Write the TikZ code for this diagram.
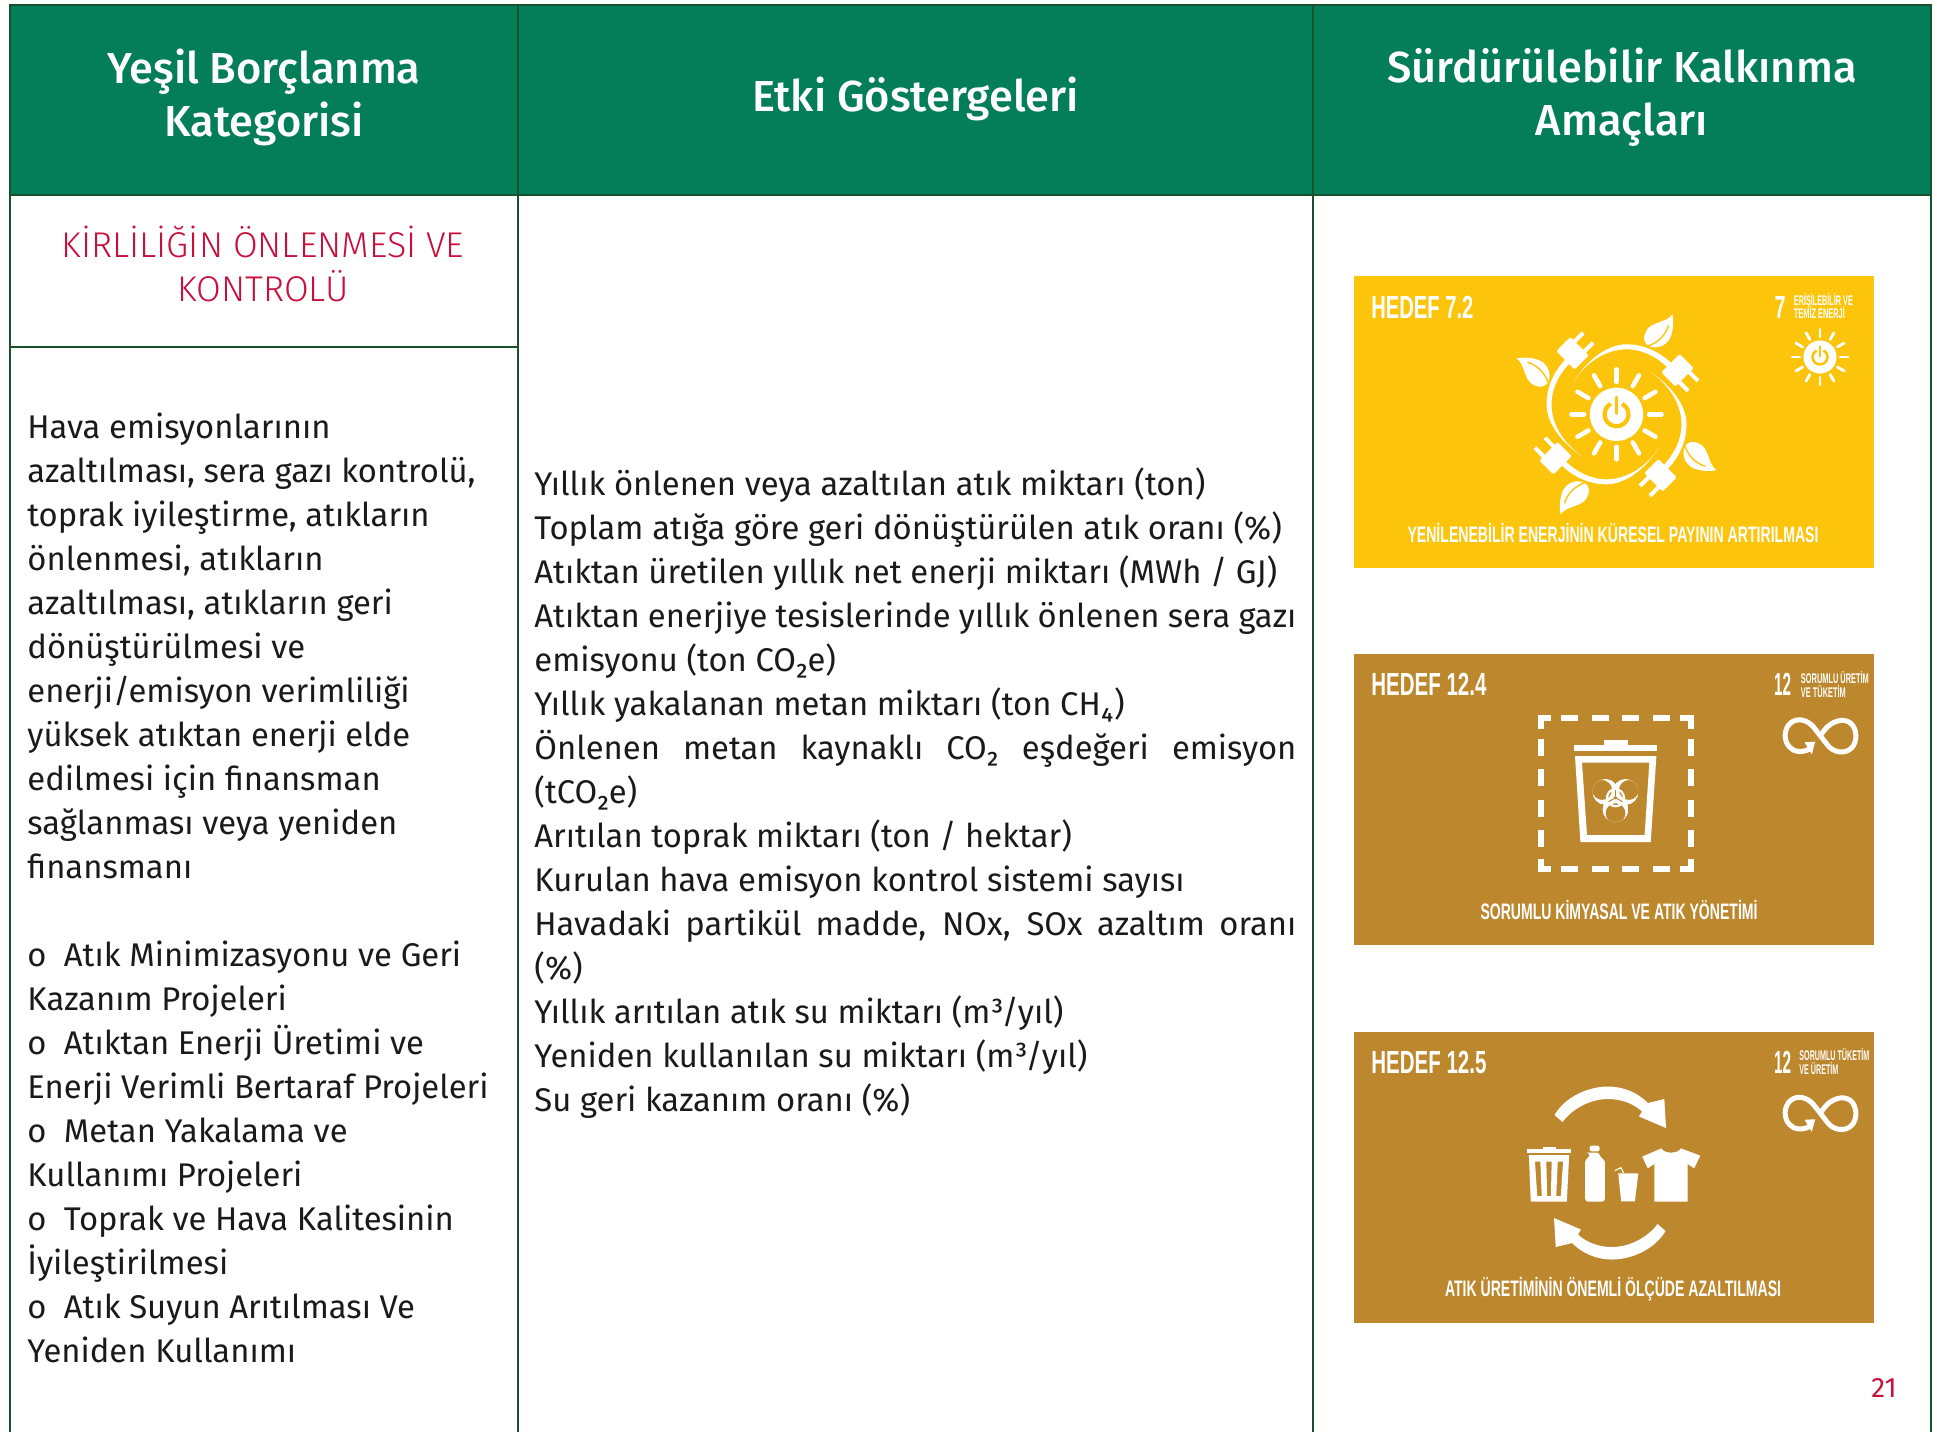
\documentclass[tikz,border=0pt]{standalone}
\usepackage{graphicx}
\usepackage{fontspec}
\setmainfont{Fira Sans}[BoldFont={* Medium}]
\newfontfamily\lightf{Fira Sans}[UprightFont={* Light}]
\newfontfamily\condf{Liberation Sans}
\definecolor{hdrgreen}{HTML}{047D59}
\definecolor{lineg}{HTML}{17522C}
\definecolor{crim}{HTML}{C8103C}
\definecolor{yel}{HTML}{FCC40B}
\definecolor{brn}{HTML}{BD872D}
\definecolor{ink}{HTML}{1A1A1A}
\newcommand\lbl[3]{\resizebox{\dimexpr#1pt/2\relax}{\height}{\fontsize{#2}{#2}\condf\bfseries #3}}
\newcommand\tightlines{\fontsize{7}{6.7}\selectfont\lineskiplimit=-20pt\relax}
\newcommand\sunicon[3]{%
 \begin{scope}[shift={(#1,#2)},scale=#3]
  \fill[white] (0,0) circle (26.7);
  \foreach \a in {0,30,...,330}
    \draw[white,line width=#3*2.3pt,line cap=round] (\a:32.5) -- (\a:45);
  \draw[yel,line width=#3*2.1pt] (-62:12) arc [start angle=-62,end angle=242,radius=12];
  \draw[white,line width=#3*4pt] (0,-6) -- (0,-21);
  \draw[yel,line width=#3*1.8pt,line cap=round] (0,-1) -- (0,-17);
 \end{scope}}
\newcommand\infsym[2]{%
 \begin{scope}[shift={(#1,#2)}]
  \draw[white,line width=2.5pt] (-9,12) .. controls (-16,16) and (-25,15) .. (-29,10)
    .. controls (-35,4) and (-35,-8) .. (-28,-14)
    .. controls (-21,-20) and (-11,-17) .. (-5,-10)
    -- (9,8)
    .. controls (14,15) and (26,18) .. (33,11)
    .. controls (39,5) and (39,-8) .. (32,-14)
    .. controls (24,-20) and (12,-15) .. (6,-7) -- (3,-3);
  \fill[white] (-3.3,4.7) -- (-14,5.3) -- (-6.7,17.3) -- cycle;
 \end{scope}}
\tikzset{
 hdr/.style={font=\fontsize{21.7}{26.5}\selectfont\bfseries,text=white,align=center,inner sep=0},
 body/.style={font=\fontsize{16.4}{22}\selectfont,text=ink,align=left,inner sep=0,anchor=north west},
 cardlbl/.style={text=white,inner sep=0},
 cardtwo/.style={text=white,inner sep=0,anchor=west,align=left,font=\tightlines}
}
\begin{document}
\begin{tikzpicture}[x=0.5pt,y=-0.5pt]
\useasboundingbox (0,0) rectangle (1937,1432);
% table
\fill[hdrgreen] (10,5) rectangle (1931,195);
\draw[lineg,line width=1.2pt] (10,1432) -- (10,5) -- (1931,5) -- (1931,1432);
\draw[lineg,line width=1.2pt] (10,195) -- (1931,195);
\draw[lineg,line width=1pt] (518,5) -- (518,1432);
\draw[lineg,line width=1pt] (1313,5) -- (1313,1432);
\draw[lineg,line width=1pt] (10,347) -- (518,347);
% headers
\node[hdr] (h1) at (264,97) {Yeşil Borçlanma\\Kategorisi};
\node[hdr] (h2) at (915.5,99) {Etki Göstergeleri};
\node[hdr] (h3) at (1622,97) {Sürdürülebilir Kalkınma\\Amaçları};
\node[inner sep=0,align=center,text=crim,font=\lightf\fontsize{17.9}{22}\selectfont] (cat) at (263,264) {KİRLİLİĞİN ÖNLENMESİ VE\\KONTROLÜ};
% column 1
\node[body] (c1) at (27,412) {Hava emisyonlarının\\
azaltılması, sera gazı kontrolü,\\
toprak iyileştirme, atıkların\\
önlenmesi, atıkların\\
azaltılması, atıkların geri\\
dönüştürülmesi ve\\
enerji/emisyon verimliliği\\
yüksek atıktan enerji elde\\
edilmesi için finansman\\
sağlanması veya yeniden\\
finansmanı\\
\mbox{}\\
o\ \ Atık Minimizasyonu ve Geri\\
Kazanım Projeleri\\
o\ \ Atıktan Enerji Üretimi ve\\
Enerji Verimli Bertaraf Projeleri\\
o\ \ Metan Yakalama ve\\
Kullanımı Projeleri\\
o\ \ Toprak ve Hava Kalitesinin\\
İyileştirilmesi\\
o\ \ Atık Suyun Arıtılması Ve\\
Yeniden Kullanımı};
% column 2
\node[body] (c2) at (534,467) {Yıllık önlenen veya azaltılan atık miktarı (ton)\\
Toplam atığa göre geri dönüştürülen atık oranı (\%)\\
Atıktan üretilen yıllık net enerji miktarı (MWh / GJ)\\
\makebox[381pt][s]{Atıktan enerjiye tesislerinde yıllık önlenen sera gazı}\\
emisyonu (ton CO₂e)\\
Yıllık yakalanan metan miktarı (ton CH₄)\\
\makebox[381pt][s]{Önlenen metan kaynaklı CO₂ eşdeğeri emisyon}\\
(tCO₂e)\\
Arıtılan toprak miktarı (ton / hektar)\\
Kurulan hava emisyon kontrol sistemi sayısı\\
\makebox[381pt][s]{Havadaki partikül madde, NOx, SOx azaltım oranı}\\
(\%)\\
Yıllık arıtılan atık su miktarı (m³/yıl)\\
Yeniden kullanılan su miktarı (m³/yıl)\\
Su geri kazanım oranı (\%)};
% cards
\fill[yel] (1354,275.5) rectangle (1874,568);
\fill[brn] (1354,653.5) rectangle (1874,945);
\fill[brn] (1354,1031.5) rectangle (1874,1323);
% card 1 text
\node[cardlbl,anchor=west] (t1a) at (1371,307) {\lbl{102}{16}{HEDEF 7.2}};
\node[cardlbl] (t1b) at (1780,307) {\lbl{11}{16}{7}};
\node[cardtwo] (t1c) at (1793.5,306) {\lbl{59}{7}{ERİŞİLEBİLİR VE}\\\lbl{51}{7}{TEMİZ ENERJİ}};
\node[cardlbl] (t1e) at (1613,533) {\lbl{411}{11.2}{YENİLENEBİLİR ENERJİNİN KÜRESEL PAYININ ARTIRILMASI}};
% card 1 icon
\sunicon{1616.5}{414.3}{1}
\sunicon{1820}{357}{0.62}
\foreach \r in {0,90,180,270}{
 \begin{scope}[shift={(1616.5,414.3)},rotate=\r]
  \fill[white] (-42.7,-33.3) .. controls (-28,-56) and (-8,-70) .. (10,-70)
     .. controls (28,-70) and (44,-62) .. (56,-50) -- (52.5,-45.5)
     .. controls (42,-56) and (27,-65) .. (10,-65)
     .. controls (-8,-65) and (-28,-55) .. cycle;
  \begin{scope}[shift={(61,-44)},rotate=-45]
   \fill[white,rounded corners=1pt] (-10,-13) rectangle (10,13);
   \draw[white,line width=2pt] (8,7) -- (22,7) (8,-7) -- (22,-7);
  \end{scope}
  \fill[white] (56,-100) .. controls (50,-91) and (33,-93) .. (29,-82)
     .. controls (26,-76) and (28,-72) .. (31,-69)
     .. controls (42,-63) and (53,-71) .. (55,-80)
     .. controls (57,-87) and (57,-93) .. cycle;
  \draw[yel,line width=0.7pt] (31,-68) .. controls (42,-72) and (49,-79) .. (52,-89);
 \end{scope}}
% card 2 text
\node[cardlbl,anchor=west] (t2a) at (1371,684) {\lbl{115}{16}{HEDEF 12.4}};
\node[cardlbl] (t2b) at (1782.5,684) {\lbl{17}{16}{12}};
\node[cardtwo] (t2c) at (1800.5,684.5) {\lbl{68}{7}{SORUMLU ÜRETİM}\\\lbl{45}{7}{VE TÜKETİM}};
\node[cardlbl] (t2e) at (1619,910) {\lbl{277}{11.2}{SORUMLU KİMYASAL VE ATIK YÖNETİMİ}};
% card 2 icon: dashed frame
\begin{scope}[white,line width=3pt]
 \draw (1540.5,728.5) -- (1540.5,718) -- (1551,718);
 \draw (1680,718) -- (1690.5,718) -- (1690.5,728.5);
 \draw (1540.5,858.5) -- (1540.5,869) -- (1551,869);
 \draw (1680,869) -- (1690.5,869) -- (1690.5,858.5);
 \foreach \x in {1561.4,1591.8,1622,1652.5}{
  \draw (\x,718) -- ++(17,0);
  \draw (\x,869) -- ++(17,0);}
 \foreach \y in {738.7,769.3,799.7,830.3}{
  \draw (1540.5,\y) -- ++(0,17);
  \draw (1690.5,\y) -- ++(0,17);}
\end{scope}
\fill[white] (1574,745) rectangle (1657,751);
\fill[white] (1603.6,740.3) rectangle (1627.5,745);
\fill[white,even odd rule] (1575,756) -- (1656.4,756) -- (1650.7,842) -- (1580.4,842) -- cycle
  (1582,762.7) -- (1649.3,762.7) -- (1644.6,835) -- (1587,835) -- cycle;
\begin{scope}[shift={(1615.5,797.7)}]
 \foreach \a in {90,210,330}{
  \begin{scope}
   \clip (\a:11.7) circle (12.9);
   \fill[white,even odd rule] (\a:11.7) circle (12.9) (\a:15.5) circle (10);
  \end{scope}
 }
 \draw[white,line width=1.1pt] (0,0) circle (8.5);
 \fill[white] (0,0) circle (4.5);
 \foreach \a in {90,210,330}
  \draw[brn,line width=0.5pt] (\a+180:1) -- (\a+180:8);
 \fill[brn] (0,0) circle (1.8);
\end{scope}
\infsym{1818.5}{737}
% card 3 text
\node[cardlbl,anchor=west] (t3a) at (1371,1062) {\lbl{115}{16}{HEDEF 12.5}};
\node[cardlbl] (t3b) at (1782.5,1062) {\lbl{17}{16}{12}};
\node[cardtwo] (t3c) at (1799,1061.5) {\lbl{70}{7}{SORUMLU TÜKETİM}\\\lbl{39}{7}{VE ÜRETİM}};
\node[cardlbl] (t3e) at (1613,1289) {\lbl{336}{11.2}{ATIK ÜRETİMİNİN ÖNEMLİ ÖLÇÜDE AZALTILMASI}};
\infsym{1818.5}{1114.5}
% card 3 icon
\foreach \r in {0,180}{
 \begin{scope}[shift={(1610,1173)},rotate=\r]
  \fill[white] (-55.5,-58) .. controls (-45,-76) and (-22,-86.5) .. (-2,-86.5)
    .. controls (14,-86.5) and (28,-80) .. (38,-70) -- (54.3,-74) -- (56,-45) -- (29,-56.5) -- (32,-61.5)
    .. controls (24,-69) and (12,-74) .. (-2,-74)
    .. controls (-20,-74) and (-38,-64) .. (-47.5,-51) -- cycle;
 \end{scope}}
\begin{scope}[shift={(1340,1020)},xscale=0.38,yscale=0.3333]
 % bin
 \fill[white] (492,388) rectangle (608,400);
 \fill[white] (533,381) rectangle (568,388);
 \fill[white,even odd rule] (497,405) -- (603,405) -- (597,545) -- (502,545) -- cycle
   (513,425) -- (527,425) -- (531,528) -- (519,528) -- cycle
   (543,425) -- (557,425) -- (555,528) -- (545,528) -- cycle
   (573,425) -- (587,425) -- (581,528) -- (569,528) -- cycle;
 % bottle
 \fill[white,rounded corners=1pt] (657,377) rectangle (683,394);
 \fill[white,rounded corners=1.5pt] (657,398) -- (683,398) .. controls (685,412) and (697,420) .. (697,435)
   -- (697,545) -- (645,545) -- (645,435) .. controls (645,420) and (655,412) .. cycle;
 % cup
 \fill[white] (732,460) -- (785,460) -- (776,544) -- (740,544) -- cycle;
 \draw[white,line width=0.6pt] (746,458) -- (739,443) -- (723,452);
 % shirt
 \fill[white] (795,410) -- (846,385) .. controls (852,402) and (890,402) .. (897,385) -- (948,407)
   -- (932,445) -- (915,432) -- (915,545) -- (827,545) -- (827,432) -- (810,445) -- cycle;
\end{scope}
\node[inner sep=0,text=crim,font=\fontsize{14}{16}\selectfont] (pg) at (1884,1388) {21};
\end{tikzpicture}
\end{document}
